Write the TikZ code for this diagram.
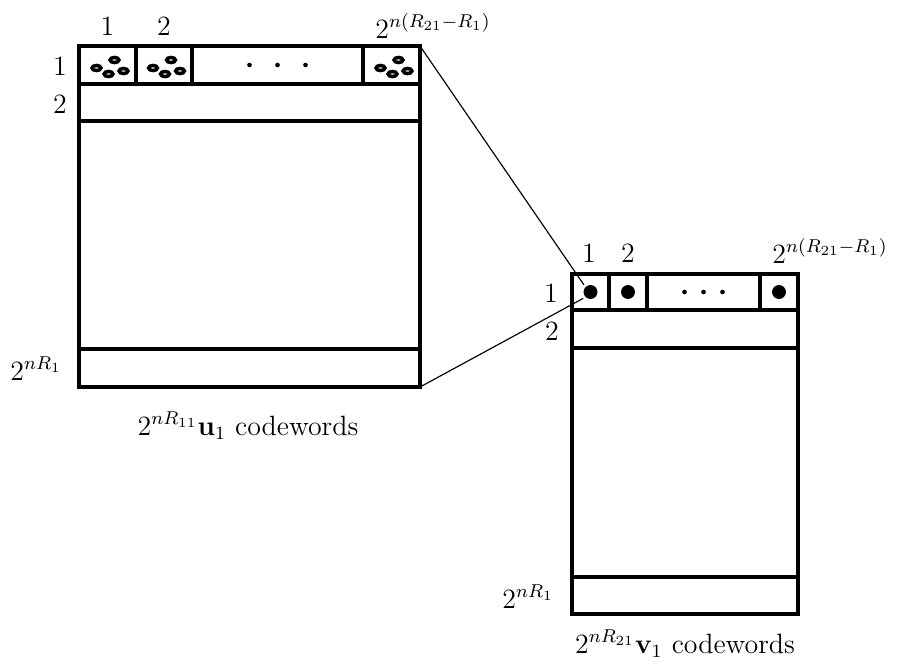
\documentclass[tikz,border=0pt]{standalone}
\usepackage{amsmath}
\usepackage{amssymb}
\usepackage{tikz}

\begin{document}
\begin{tikzpicture}[x=0.43pt, y=-0.43pt, font=\large,
        frame/.style={line width=1.6pt},
        ring/.style={line width=1.5pt},
        word/.style={circle, fill, inner sep=0pt, minimum size=6pt},
        tiny/.style={circle, fill, inner sep=0pt, minimum size=2pt}]
        \useasboundingbox (0,0) rectangle (901,666);
        % u_1 codebook
        \draw[frame] (79,46) rectangle (420,387);
        \draw[frame] (79,84) -- (420,84);
        \draw[frame] (79,121) -- (420,121);
        \draw[frame] (79,349) -- (420,349);
        \foreach \x in {136,192,363} \draw[frame] (\x,46) -- (\x,84);
        \foreach \cx in {107.5,164,391.5} {
            \foreach \dx/\dy in {-11/3, 7/-5, 1/9, 16/6}
                \draw[ring] (\cx+\dx,65+\dy) ellipse [x radius=1.9pt, y radius=1.1pt];
        }
        \foreach \dx in {-28,0,28} \node[tiny] at (277.5+\dx,65) {};
        \coordinate (une) at (420,46);
        \coordinate (use) at (420,387);
        \draw (107.5,35) node[anchor=base](uc1) {1};
        \draw (164,35) node[anchor=base](uc2) {2};
        \draw (375,38) node[anchor=base west, inner sep=0pt](ucn) {$2^{n(R_{21}-R_1)}$};
        \draw (60,75) node[anchor=base](ur1) {1};
        \draw (60,113) node[anchor=base](ur2) {2};
        \draw (10,380) node[anchor=base west, inner sep=0pt](urn) {$2^{nR_1}$};
        \draw (248,435) node[anchor=base](ucap) {$2^{nR_{11}}\mathbf{u}_1$ codewords};
        % v_1 codebook
        \draw[frame] (572,274) rectangle (798,614);
        \draw[frame] (572,310) -- (798,310);
        \draw[frame] (572,348) -- (798,348);
        \draw[frame] (572,577) -- (798,577);
        \foreach \x in {609,647,760} \draw[frame] (\x,274) -- (\x,310);
        \draw (590.5,292) node[word](v1) {};
        \draw (628,292) node[word](v2) {};
        \draw (779,292) node[word](vn) {};
        \foreach \dx in {-19,0,19} \node[tiny] at (703.5+\dx,292) {};
        \draw (589,262) node[anchor=base](vc1) {1};
        \draw (628,262) node[anchor=base](vc2) {2};
        \draw (772,263) node[anchor=base west, inner sep=0pt](vcn) {$2^{n(R_{21}-R_1)}$};
        \draw (551,302) node[anchor=base](vr1) {1};
        \draw (552,340) node[anchor=base](vr2) {2};
        \draw (502,608) node[anchor=base west, inner sep=0pt](vrn) {$2^{nR_1}$};
        \draw (685,653) node[anchor=base](vcap) {$2^{nR_{21}}\mathbf{v}_1$ codewords};
        % zoom lines
        \draw[line width=0.5pt, shorten >=1pt] (une) -- (v1.135);
        \draw[line width=0.5pt, shorten >=1pt] (use) -- (v1.225);
\end{tikzpicture}
\end{document}
